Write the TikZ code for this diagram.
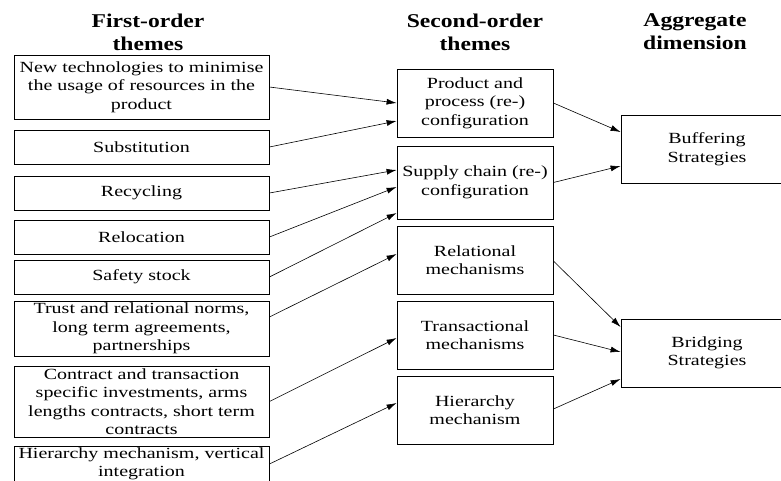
\documentclass[tikz,border=0pt]{standalone}
\usepackage{fontspec}
\setmainfont[FakeStretch=1.29]{Liberation Serif}
\newfontfamily\headfont[FakeStretch=1.21]{Liberation Serif}
\usetikzlibrary{arrows.meta}

\begin{document}
\begin{tikzpicture}[x=1pt,y=-1pt,
    box/.style={draw,line width=0.8pt,align=center,inner sep=1pt,
      font=\fontsize{15.5}{18.5}\selectfont},
    head/.style={align=center,font=\headfont\bfseries\fontsize{19.5}{23}\selectfont},
    link/.style={-{Latex[length=10pt,width=6pt]},line width=0.6pt}]
    \useasboundingbox (0,0) rectangle (781,480);
    % Column headings
    \node[head] (h1) at (148,32) {First-order\\themes};
    \node[head] (h2) at (475,32) {Second-order\\themes};
    \node[head] (h3) at (695,32) {Aggregate\\dimension};
    % First-order themes
    \foreach \i/\y/\h/\t in {
      1/87/64/{New technologies to minimise\\the usage of resources in the\\product},
      2/147/34/{Substitution},
      3/193/34/{Recycling},
      4/237/34/{Relocation},
      5/277/34/{Safety stock},
      6/328.5/55/{Trust and relational norms,\\long term agreements,\\partnerships},
      7/401.5/71/{Contract and transaction\\specific investments, arms\\lengths contracts, short term\\contracts},
      8/464/36/{Hierarchy mechanism, vertical\\integration}} {
      \node[box,minimum width=255pt,minimum height=\h pt] (f\i) at (141.5,\y) {\t};
    }
    % Second-order themes
    \foreach \i/\y/\h/\t in {
      1/103/68/{Product and\\process (re-)\\configuration},
      2/182.5/73/{Supply chain (re-)\\configuration},
      3/260/68/{Relational\\mechanisms},
      4/335/68/{Transactional\\mechanisms},
      5/410/68/{Hierarchy\\mechanism}} {
      \node[box,minimum width=156pt,minimum height=\h pt] (s\i) at (475,\y) {\t};
    }
    % Aggregate dimensions
    \node[box,minimum width=172pt,minimum height=68pt] (a1) at (707,149) {Buffering\\Strategies};
    \node[box,minimum width=172pt,minimum height=68pt] (a2) at (707,353) {Bridging\\Strategies};
    % Arrows
    \foreach \a/\b/\s/\t in {f1/s1/0/0, f2/s1/0/-18, f3/s2/0/12.5, f4/s2/0/-4.5,
      f5/s2/0/-30.5, f6/s3/11.5/6, f7/s4/0/-3, f8/s5/0/7,
      s1/a1/0/17, s2/a1/0/-17, s3/a2/-1/26, s4/a2/0/1, s5/a2/1/-26} {
      \draw[link] ([yshift=\s pt]\a.east) -- ([yshift=\t pt]\b.west);
    }
\end{tikzpicture}
\end{document}
